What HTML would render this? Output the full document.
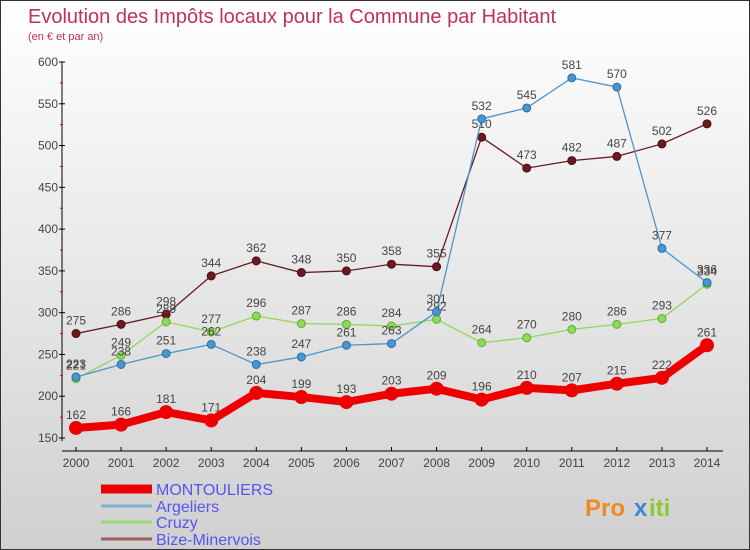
<!DOCTYPE html>
<html><head><meta charset="utf-8"><style>
body{margin:0}
#wrap{position:relative;width:750px;height:550px;box-sizing:border-box;border:1px solid #333;background:linear-gradient(#fff,#d0d0d0);font-family:"Liberation Sans",sans-serif;overflow:hidden}
</style></head><body>
<div id="wrap">
<svg id="svg" width="750" height="550" style="position:absolute;left:0;top:0;font-family:'Liberation Sans',sans-serif"></svg>
</div>
<script>
const years=[2000,2001,2002,2003,2004,2005,2006,2007,2008,2009,2010,2011,2012,2013,2014];
const montouliers=[162,166,181,171,204,199,193,203,209,196,210,207,215,222,261];
const argeliers=[223,238,251,262,238,247,261,263,301,532,545,581,570,377,336];
const cruzy=[221,249,289,277,296,287,286,284,292,264,270,280,286,293,334];
const bize=[275,286,298,344,362,348,350,358,355,510,473,482,487,502,526];
const yTicks=[150,200,250,300,350,400,450,500,550,600];
const svg=document.getElementById('svg');
const NS='http://www.w3.org/2000/svg';
function X(i){return 75+i*(706-75)/14;}
function Y(v){return 437-(v-150)*(437-61)/450;}
function mk(t,a,txt){const e=document.createElementNS(NS,t);for(const k in a)e.setAttribute(k,a[k]);if(txt!==undefined)e.textContent=txt;svg.appendChild(e);return e;}
let e;
e=mk('text',{x:27,y:22,fill:'#c0305a','font-size':20,'font-weight':300},'Evolution des Impôts locaux pour la Commune par Habitant');

e=mk('text',{x:27,y:39,fill:'#c0305a','font-size':11},'(en € et par an)');

e=mk('line',{x1:61,y1:61,x2:61,y2:440,stroke:'#000'});

yTicks.forEach(v=>{const y=Y(v);
 let t=mk('line',{x1:58,y1:y,x2:64,y2:y,stroke:'#000'});
 t=mk('text',{x:57,y:y+4,'text-anchor':'end','font-size':12,fill:'#444'},v);
 if(v<600){t=mk('line',{x1:59,y1:Y(v+25),x2:62,y2:Y(v+25),stroke:'#e00'});}
});
e=mk('line',{x1:61,y1:450,x2:722,y2:450,stroke:'#000'});

years.forEach((yr,i)=>{let t=mk('line',{x1:X(i),y1:446,x2:X(i),y2:450,stroke:'#000'});
 t=mk('text',{x:X(i),y:466,'text-anchor':'middle','font-size':12,fill:'#444'},yr);});
function series(d,col,w,r,name,edge){
 const p=mk('polyline',{points:d.map((v,i)=>X(i)+','+Y(v)).join(' '),fill:'none',stroke:col,'stroke-width':w,'stroke-linejoin':'round'});
 
 d.forEach((v,i)=>{let c=mk('circle',{cx:X(i),cy:Y(v),r:r,fill:col,stroke:edge,'stroke-width':1});
  c=mk('text',{x:X(i),y:Y(v)-9,'text-anchor':'middle','font-size':12,fill:'#444'},v);});
}
series(bize,'#6b1a22',1.3,4,'bize-minervois','#4a0d12');
series(cruzy,'#8ed85a',1.3,4,'cruzy','#5fb030');
series(argeliers,'#4a95cc',1.3,4,'argeliers','#2a70a8');
series(montouliers,'#ee0000',8,6.5,'montouliers','#ee0000');
const leg=[['MONTOULIERS','#ee0000',9,494],['Argeliers','#7fb0d0',3,511],['Cruzy','#9ad870',3,527],['Bize-Minervois','#9a6060',3,544]];
leg.forEach(l=>{let t=mk('line',{x1:100,y1:l[3]-6,x2:151,y2:l[3]-6,stroke:l[1],'stroke-width':l[2]});
 t=mk('text',{x:155,y:l[3],'font-size':16,fill:'#5555ee'},l[0]);});
e=mk('text',{x:584,y:515,'font-size':24,'font-weight':'bold',fill:'#f08a20'},'Pro');

e=mk('text',{x:633,y:515,'font-size':24,'font-weight':'bold',fill:'#3a8ad0'},'x');

e=mk('text',{x:648,y:515,'font-size':24,'font-weight':'bold',fill:'#8cc830'},'iti');

</script>
</body></html>
